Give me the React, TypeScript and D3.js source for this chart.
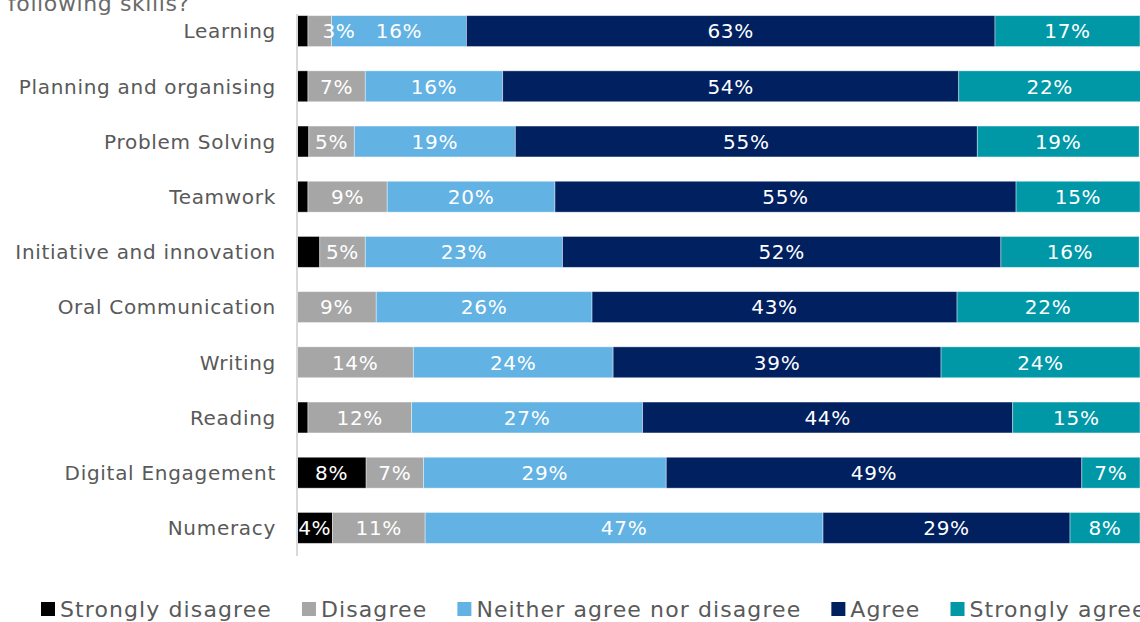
import React, { useEffect, useRef } from "react";
import * as d3 from "d3";

const categories = [
  "Learning",
  "Planning and organising",
  "Problem Solving",
  "Teamwork",
  "Initiative and innovation",
  "Oral Communication",
  "Writing",
  "Reading",
  "Digital Engagement",
  "Numeracy",
];
const seriesNames = [
  "Strongly disagree",
  "Disagree",
  "Neither agree nor disagree",
  "Agree",
  "Strongly agree",
];
const stronglyDisagree = [1.3, 1.3, 1.4, 1.3, 2.7, 0, 0, 1.3, 8.2, 4.2];
const disagree = [2.8, 6.8, 5.4, 9.4, 5.4, 9.4, 13.8, 12.3, 6.8, 11.0];
const neither = [16.0, 16.3, 19.1, 19.9, 23.4, 25.6, 23.7, 27.4, 28.8, 47.2];
const agree = [62.7, 54.1, 54.8, 54.7, 52.0, 43.3, 38.9, 43.9, 49.3, 29.3];
const stronglyAgree = [17.2, 21.6, 19.2, 14.7, 16.4, 21.6, 23.6, 15.1, 6.9, 8.3];
const colors = ["#000000", "#a6a6a6", "#62b2e3", "#002060", "#0097a7"];
const titleText = "following skills?";

const FONT = "'DejaVu Sans', Verdana, sans-serif";

export default function App() {
  const ref = useRef<SVGSVGElement>(null);
  useEffect(() => {
    const svg = d3.select(ref.current);
    svg.selectAll("*").remove();
    const x0 = 297;
    const x = d3.scaleLinear().domain([0, 100]).range([x0, x0 + 843]);
    const y = d3
      .scaleBand<string>()
      .domain(categories)
      .range([3.5, 555.5])
      .paddingInner(0.44)
      .paddingOuter(0.22);

    const series = [stronglyDisagree, disagree, neither, agree, stronglyAgree];
    const rows = categories.map((c, i) => {
      const r: any = { cat: c };
      seriesNames.forEach((s, j) => (r[s] = series[j][i]));
      return r;
    });
    const stacked = d3.stack<any>().keys(seriesNames)(rows);

    const title = svg
      .append("text")
      .attr("x", 8)
      .attr("y", 11)
      .attr("font-family", FONT)
      .attr("font-size", 22)
      .attr("letter-spacing", 0.6)
      .attr("fill", "#6a6a6a");
    title.append("tspan").text(titleText);
    title
      .append("tspan")
      .attr("font-size", 13)
      .attr("dy", -8)
      .text("'");

    const g = svg.append("g");
    stacked.forEach((layer, j) => {
      g.append("g")
        .selectAll("rect")
        .data(layer)
        .join("rect")
        .attr("x", (d) => x(d[0]))
        .attr("width", (d) => Math.max(0, x(d[1]) - x(d[0])))
        .attr("y", (d) => y(d.data.cat)!)
        .attr("height", y.bandwidth())
        .attr("fill", colors[j])
        .attr("stroke", "rgba(255,255,255,0.5)")
        .attr("stroke-width", 0.8);
    });
    const labels = svg.append("g");
    stacked.forEach((layer, j) => {
      labels
        .append("g")
        .selectAll("text")
        .data(
          layer.filter((d) => {
            const v = d[1] - d[0];
            return j === 0 ? v >= 3.5 : v >= 2.5;
          })
        )
        .join("text")
        .attr("x", (d) => {
          const c = (x(d[0]) + x(d[1])) / 2;
          const w = x(d[1]) - x(d[0]);
          // narrow segment: label nudged right, as in the original
          return w < 30 && j > 0 ? x(d[0]) + 31 : c;
        })
        .attr("y", (d) => y(d.data.cat)! + y.bandwidth() / 2)
        .attr("dy", "0.36em")
        .attr("text-anchor", "middle")
        .attr("font-family", FONT)
        .attr("font-size", 20)
        .attr("letter-spacing", 0.7)
        .attr("fill", "#ffffff")
        .text((d) => `${Math.round(d[1] - d[0])}%`);
    });

    svg
      .append("line")
      .attr("x1", x0)
      .attr("x2", x0)
      .attr("y1", 14)
      .attr("y2", 556)
      .attr("stroke", "#d9d9d9")
      .attr("stroke-width", 2);

    svg
      .append("g")
      .selectAll("text")
      .data(categories)
      .join("text")
      .attr("x", 276)
      .attr("y", (d) => y(d)! + y.bandwidth() / 2)
      .attr("dy", "0.36em")
      .attr("text-anchor", "end")
      .attr("font-family", FONT)
      .attr("font-size", 20)
      .attr("letter-spacing", 0.7)
      .attr("fill", "#595959")
      .text((d) => d);

    const leg = svg.append("g");
    let lx = 41;
    const ly = 609;
    seriesNames.forEach((s, j) => {
      leg
        .append("rect")
        .attr("x", lx)
        .attr("y", ly - 7)
        .attr("width", 14)
        .attr("height", 14)
        .attr("fill", colors[j]);
      const t = leg
        .append("text")
        .attr("x", lx + 19)
        .attr("y", ly)
        .attr("dy", "0.36em")
        .attr("font-family", FONT)
        .attr("font-size", 22)
        .attr("letter-spacing", 1.1)
        .attr("fill", "#595959")
        .text(s);
      const w = (t.node() as SVGTextElement).getComputedTextLength();
      lx = lx + 19 + w + 30;
    });
  }, []);
  return (
    <svg
      ref={ref}
      width={1140}
      height={622}
      style={{ position: "absolute", left: 0, top: 0, background: "#fff" }}
    />
  );
}
